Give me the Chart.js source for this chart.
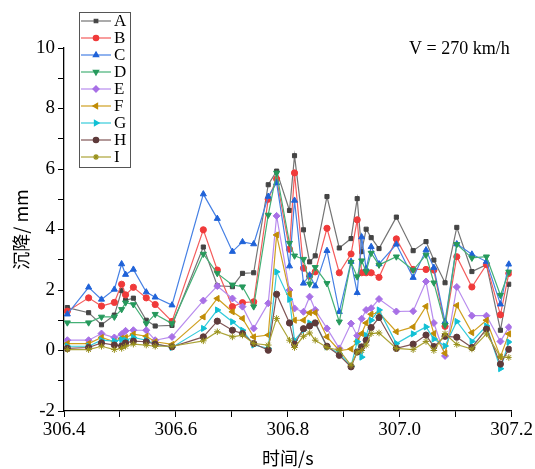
<!DOCTYPE html>
<html><head><meta charset="utf-8">
<script src="https://cdn.jsdelivr.net/npm/chart.js@4.4.1/dist/chart.umd.min.js"></script>
<style>html,body{margin:0;padding:0;background:#fff}#wrap{width:535px;height:469px}</style>
</head><body><div id="wrap"><canvas id="c" width="535" height="469"></canvas></div>
<script>
const times = [306.406,306.444,306.467,306.490,306.503,306.510,306.524,306.547,306.563,306.593,
306.649,306.674,306.701,306.719,306.739,306.765,306.780,306.803,306.812,306.828,
306.839,306.849,306.870,306.892,306.913,306.924,306.932,306.940,306.949,306.963,
306.994,307.024,307.047,307.061,307.081,307.102,307.129,307.155,307.180,307.195];
const seriesNames = ['A','B','C','D','E','F','G','H','I'];
const A = [1.42,1.25,0.85,1.17,1.98,1.66,1.73,1.00,0.81,0.83,3.42,2.14,2.11,2.55,2.57,5.48,5.93,4.63,6.44,3.99,2.93,3.13,5.09,3.39,3.70,5.02,3.27,4.01,3.73,3.37,4.41,3.30,3.60,2.99,2.24,4.07,2.61,2.84,0.67,2.19];
const B = [1.30,1.74,1.47,1.59,2.19,1.84,2.09,1.74,1.52,0.96,3.99,2.66,1.45,1.58,1.61,5.00,5.67,3.35,5.87,2.72,2.46,2.60,4.04,2.57,3.19,4.32,2.57,2.57,2.57,2.42,3.69,2.68,2.68,2.66,0.80,3.10,2.10,2.84,1.18,2.55];
const C = [1.20,2.09,1.69,2.02,2.86,2.51,2.68,1.93,1.76,1.50,5.17,4.36,3.27,3.59,3.52,5.09,5.54,2.79,4.96,2.22,2.49,2.13,3.30,1.28,2.94,1.91,3.75,2.70,3.43,2.86,3.51,2.41,3.32,2.74,0.95,3.52,3.18,2.94,1.53,2.85];
const D = [0.92,0.92,1.11,1.11,1.36,1.58,1.52,0.89,1.20,0.89,3.19,2.55,2.17,2.11,1.45,4.48,5.87,3.55,3.13,3.02,2.20,2.75,2.22,0.95,2.92,2.44,2.97,2.61,3.22,2.83,3.10,2.66,3.16,2.24,0.84,3.51,3.06,3.10,1.83,2.60];
const E = [0.34,0.34,0.56,0.43,0.54,0.65,0.67,0.67,0.34,0.45,1.65,2.13,1.72,1.45,0.73,1.56,4.45,2.00,1.39,1.28,1.78,1.34,0.73,0.07,0.89,0.49,1.05,1.34,1.40,1.70,1.29,1.30,2.28,0.91,-0.18,2.10,1.15,1.15,0.30,0.77];
const F = [0.23,0.23,0.43,0.29,0.40,0.43,0.54,0.47,0.29,0.20,1.11,1.72,1.28,1.06,0.45,0.51,3.82,1.87,1.00,1.00,1.25,1.25,0.45,0.00,0.05,0.30,0.56,0.91,1.20,1.25,0.62,0.78,1.46,0.56,-0.09,1.49,0.59,1.00,-0.21,0.55];
const G = [0.14,0.14,0.34,0.31,0.36,0.34,0.43,0.34,0.21,0.10,0.73,1.34,0.95,0.67,0.18,0.07,2.60,1.69,0.34,0.67,0.91,0.91,0.12,-0.10,-0.52,0.29,-0.22,0.50,1.00,1.34,0.23,0.55,0.78,0.38,0.15,0.96,0.30,0.81,-0.60,0.28];
const H = [0.07,0.10,0.25,0.18,0.15,0.25,0.31,0.29,0.21,0.12,0.45,0.97,0.67,0.56,0.23,0.01,1.86,0.91,0.21,0.72,0.81,0.91,0.14,-0.16,-0.54,-0.05,0.12,0.34,0.76,1.09,0.07,0.21,0.51,0.13,0.47,0.44,0.10,0.71,-0.45,0.04];
const I = [0.03,0.03,0.14,0.03,0.07,0.14,0.21,0.18,0.14,0.14,0.32,0.62,0.45,0.51,0.23,0.18,1.06,0.34,0.10,0.47,0.58,0.34,0.10,0.01,-0.49,-0.05,0.00,0.18,0.56,0.58,0.07,0.03,0.30,0.00,0.56,0.20,0.05,0.55,-0.21,-0.23];
const xTicks = ['306.4','306.6','306.8','307.0','307.2'];
const yTicks = ['-2','0','2','4','6','8','10'];

const values = [A,B,C,D,E,F,G,H,I];
const lineColors = ['#747474','#f45c5c','#4680e4','#44b076','#b88cee','#cfa020','#34cbdb','#805656','#aca438'];
const markColors = ['#444444','#f03a3a','#1f62d8','#26995c','#a870e6','#c08c06','#10c0d4','#5e3a3a','#98901a'];
const styles = ['rect','circle','triangle','triangle','rectRot','triangle','triangle','circle','star'];
const rots = [0,0,0,180,0,-90,90,0,0];
const radii = [2.9,3.1,3.5,3.5,3.5,3.5,3.5,3.1,3.3];

const datasets = seriesNames.map((n,i)=>({
  label:n,
  data: times.map((t,k)=>({x:t,y:values[i][k]})),
  borderColor: lineColors[i], backgroundColor: markColors[i],
  pointBackgroundColor: markColors[i], pointBorderColor: markColors[i],
  pointStyle: styles[i], pointRotation: rots[i], pointRadius: radii[i], pointBorderWidth: 1,
  borderWidth: 1.2, tension: 0, order: 9-i
}));

const serif = "'Liberation Serif','Times New Roman',serif";
const cjk = "'Noto Sans CJK SC','Liberation Serif',serif";

const extras = {
  id:'extras',
  afterDraw(chart){
    const ctx = chart.ctx;
    ctx.save();
    const bx=79, by=12, bw=51, bh=155, rowH=17;
    ctx.strokeStyle='#555'; ctx.lineWidth=1;
    ctx.strokeRect(bx+0.5,by+0.5,bw,bh);
    ctx.font = "17px "+serif; ctx.textBaseline='middle'; ctx.textAlign='left';
    seriesNames.forEach((n,i)=>{
      const y = by+9+i*rowH;
      ctx.strokeStyle=lineColors[i]; ctx.lineWidth=1.2;
      ctx.beginPath(); ctx.moveTo(bx+2,y); ctx.lineTo(bx+32,y); ctx.stroke();
      ctx.fillStyle=markColors[i]; ctx.strokeStyle=markColors[i];
      Chart.helpers.drawPoint(ctx,{pointStyle:styles[i],rotation:rots[i],radius:radii[i]-0.4,borderWidth:1},bx+17,y);
      ctx.fillStyle='#000';
      ctx.fillText(n,bx+35,y+1);
    });
    ctx.font = "18px "+serif; ctx.fillStyle='#000';
    ctx.fillText('V = 270 km/h',409,49);
    ctx.restore();
  }
};

new Chart(document.getElementById('c'),{
  type:'line',
  data:{datasets},
  options:{
    responsive:false, animation:false, devicePixelRatio:1,
    layout:{padding:{top:48,right:20,left:0,bottom:0}},
    plugins:{legend:{display:false},tooltip:{enabled:false}},
    scales:{
      x:{type:'linear',min:306.4,max:307.2,
        afterFit(s){s.height=58;},
        grid:{display:true,drawOnChartArea:false,drawTicks:true,tickLength:6,color:'#000'},
        border:{display:true,color:'#000',width:1.3},
        ticks:{stepSize:0.1,autoSkip:false,maxRotation:0,padding:2,color:'#000',font:{family:serif,size:19},
          callback:(v,i)=> (i%2===0 ? xTicks[i/2] : '')},
        title:{display:true,text:'时间/s',color:'#000',font:{family:cjk,size:18},padding:{top:-2,bottom:0}}
      },
      y:{min:-2,max:10,
        afterFit(s){s.width=64;},
        grid:{display:true,drawOnChartArea:false,drawTicks:true,tickLength:6,color:'#000'},
        border:{display:true,color:'#000',width:1.3},
        ticks:{stepSize:1,autoSkip:false,padding:3,color:'#000',font:{family:serif,size:19},
          callback:(v,i)=> (i%2===0 ? yTicks[i/2] : '')},
        title:{display:true,text:'沉降/ mm',color:'#000',font:{family:cjk,size:18},padding:{top:10,bottom:0}}
      }
    }
  },
  plugins:[extras]
});
</script></body></html>
